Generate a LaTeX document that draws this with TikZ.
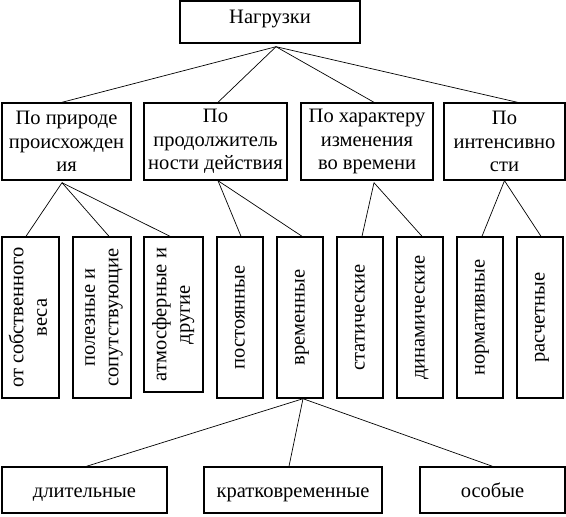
\documentclass[tikz,border=0pt]{standalone}
\usepackage{fontspec}
\setmainfont{Liberation Serif}
\usepackage{graphicx}
\usetikzlibrary{calc}
\newcommand{\vt}[1]{\rotatebox{90}{\begin{tabular}{@{}c@{}}#1\end{tabular}}}

\begin{document}
\begin{tikzpicture}[x=1pt,y=-1pt,
  box/.style={draw,line width=1.4pt,align=center,inner sep=0pt,font=\fontsize{20.5}{23.5}\selectfont},
  hbox/.style={box,text height=6.5pt,text depth=2.6pt},
  lbox/.style={box,text height=15pt,text depth=1pt,minimum height=46},
  ln/.style={line width=0.7pt}]
  \useasboundingbox (0,0) rectangle (566,517);
  \node[hbox,minimum width=180,minimum height=42](nag) at (270,22){Нагрузки};
  % 2nd row
  \node[box,minimum width=129,minimum height=77](pr) at (66.5,141.5){По природе\\происхожден\\ия};
  \node[box,minimum width=143,minimum height=77](pd) at (215.5,141.5){По\\продолжитель\\ности действия};
  \node[box,minimum width=132,minimum height=77](hr) at (367,141.5){По характеру\\изменения\\во времени};
  \node[box,minimum width=121,minimum height=77](in) at (504.5,141.5){По\\интенсивно\\сти};
  % vertical boxes
  \node[box,minimum width=57,minimum height=161](sv) at (30.5,317.5){\vt{от собственного\\веса}};
  \node[box,minimum width=58,minimum height=161](pz) at (102,317.5){\vt{полезные и\\сопутствующие}};
  \node[box,minimum width=59,minimum height=155](at) at (173.5,314.5){\vt{атмосферные и\\другие}};
  \node[box,minimum width=46,minimum height=161](po) at (240,317.5){\vt{постоянные}};
  \node[box,minimum width=46,minimum height=161](vr) at (300,317.5){\vt{временные}};
  \node[box,minimum width=46,minimum height=161](st) at (360,317.5){\vt{статические}};
  \node[box,minimum width=46,minimum height=161](dn) at (420,317.5){\vt{динамические}};
  \node[box,minimum width=46,minimum height=161](nr) at (480,317.5){\vt{нормативные}};
  \node[box,minimum width=46,minimum height=161](rs) at (540,317.5){\vt{расчетные}};
  % bottom row
  \node[lbox,minimum width=165](dl) at (84.5,490){длительные};
  \node[lbox,minimum width=178](kr) at (293,490){кратковременные};
  \node[lbox,minimum width=145](os) at (492.5,490){особые};
  % connectors
  \coordinate(h0) at ($(nag.south)+(6,3)$);
  \coordinate(h1) at ($(pr.south)+(-4.5,2)$);
  \coordinate(h2) at ($(pd.south)+(2.5,0)$);
  \coordinate(h3) at ($(hr.south)+(7,2)$);
  \coordinate(h4) at (in.south);
  \coordinate(h5) at ($(vr.south)+(3,0)$);
  \foreach \c/\s in {pr/-4.5,pd/2.5,hr/7,in/13}
    \draw[ln](h0)--([xshift=\s]\c.north);
  \foreach \c/\s in {sv/-4.5,pz/7,at/-3.5}
    \draw[ln](h1)--([xshift=\s]\c.north);
  \foreach \c/\s in {po/1,vr/2}
    \draw[ln](h2)--([xshift=\s]\c.north);
  \foreach \c/\s in {st/2,dn/2}
    \draw[ln](h3)--([xshift=\s]\c.north);
  \foreach \c/\s in {nr/2,rs/1}
    \draw[ln](h4)--([xshift=\s]\c.north);
  \foreach \c/\s in {dl/2,kr/-4,os/0}
    \draw[ln](h5)--([xshift=\s]\c.north);
\end{tikzpicture}
\end{document}
